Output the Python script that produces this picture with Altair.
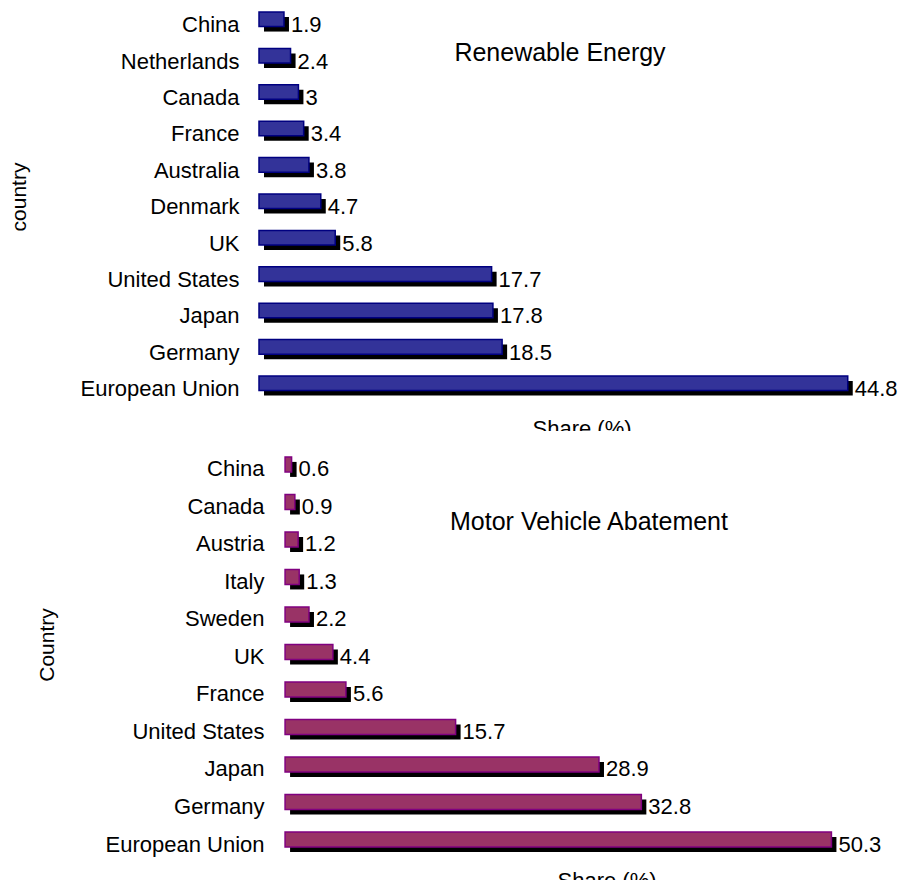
import altair as alt
import pandas as pd

FONT = "Liberation Sans"

# Renewable Energy panel
re_countries = ["China", "Netherlands", "Canada", "France", "Australia", "Denmark",
                "UK", "United States", "Japan", "Germany", "European Union"]
re_values = [1.9, 2.4, 3, 3.4, 3.8, 4.7, 5.8, 17.7, 17.8, 18.5, 44.8]
re_labels = ["1.9", "2.4", "3", "3.4", "3.8", "4.7", "5.8", "17.7", "17.8", "18.5", "44.8"]

# Motor Vehicle Abatement panel
mv_countries = ["China", "Canada", "Austria", "Italy", "Sweden", "UK", "France",
                "United States", "Japan", "Germany", "European Union"]
mv_values = [0.6, 0.9, 1.2, 1.3, 2.2, 4.4, 5.6, 15.7, 28.9, 32.8, 50.3]
mv_labels = ["0.6", "0.9", "1.2", "1.3", "2.2", "4.4", "5.6", "15.7", "28.9", "32.8", "50.3"]


def panel(countries, values, labels, fill, stroke, title, ytitle, xmin, xmax, width, height,
          pad_outer, align, label_pad, label_off, ytitle_xy, head_xy, share_xy):
    df = pd.DataFrame({"country": countries, "value": values, "label": labels})
    xs = alt.Scale(domain=[xmin, xmax], nice=False, zero=False)
    base = alt.Chart(df).encode(
        y=alt.Y("country:N", sort=countries,
                scale=alt.Scale(paddingInner=0.6, paddingOuter=pad_outer, align=align),
                axis=alt.Axis(title=None, ticks=False, domain=False, grid=False,
                              labelPadding=label_pad, labelFontSize=22, labelFont=FONT,
                              labelColor="black", labelOffset=label_off, labelLimit=0))
    )
    shadow = base.mark_bar(color="black", xOffset=5, x2Offset=5, yOffset=5, y2Offset=5).encode(
        x=alt.X("value:Q", scale=xs, axis=None), x2=alt.datum(0))
    bar = base.mark_bar(fill=fill, stroke=stroke, strokeWidth=1.5).encode(
        x=alt.X("value:Q", scale=xs, axis=None), x2=alt.datum(0))
    txt = base.mark_text(align="left", baseline="middle", dx=7, dy=label_off,
                         fontSize=22, font=FONT, color="black").encode(
        x=alt.X("value:Q", scale=xs, axis=None), text="label:N")
    ytl = alt.Chart(pd.DataFrame({"t": [ytitle]})).mark_text(
        fontSize=21, font=FONT, color="black", align="center", baseline="top",
        angle=270).encode(text="t:N", x=alt.value(ytitle_xy[0]), y=alt.value(ytitle_xy[1]))
    head = alt.Chart(pd.DataFrame({"t": [title]})).mark_text(
        fontSize=25, font=FONT, color="black", align="center", baseline="middle").encode(
        text="t:N", x=alt.value(head_xy[0]), y=alt.value(head_xy[1]))
    share = alt.Chart(pd.DataFrame({"t": ["Share (%)"]})).mark_text(
        fontSize=22, font=FONT, color="black", align="center", baseline="alphabetic",
        clip=True).encode(text="t:N", x=alt.value(share_xy[0]), y=alt.value(share_xy[1]))
    return alt.layer(shadow, bar, txt, ytl, head, share).properties(width=width, height=height)


# top panel: origin at x=258, about 13.1 px per unit
top = panel(re_countries, re_values, re_labels, "#333399", "#000080",
            "Renewable Energy", "country", 0, 48.7, 640, 423,
            0.61, 0.09, 20, 6, (-250, 189), (301, 45), (323, 428))

# bottom panel: shares the left edge, bars start 26 px further right (about 10.9 px per unit)
bottom = panel(mv_countries, mv_values, mv_labels, "#993366", "#800080",
               "Motor Vehicle Abatement", "Country", -2.4, 55.6, 630, 449,
               0.785, 0.44, -5, 5, (-222, 214), (330, 91), (348, 457))

chart = alt.vconcat(top, bottom, spacing=0).properties(
    padding=0, background="white").configure_view(stroke=None)

chart.save("out.html", embed_options={"renderer": "svg", "actions": False})
